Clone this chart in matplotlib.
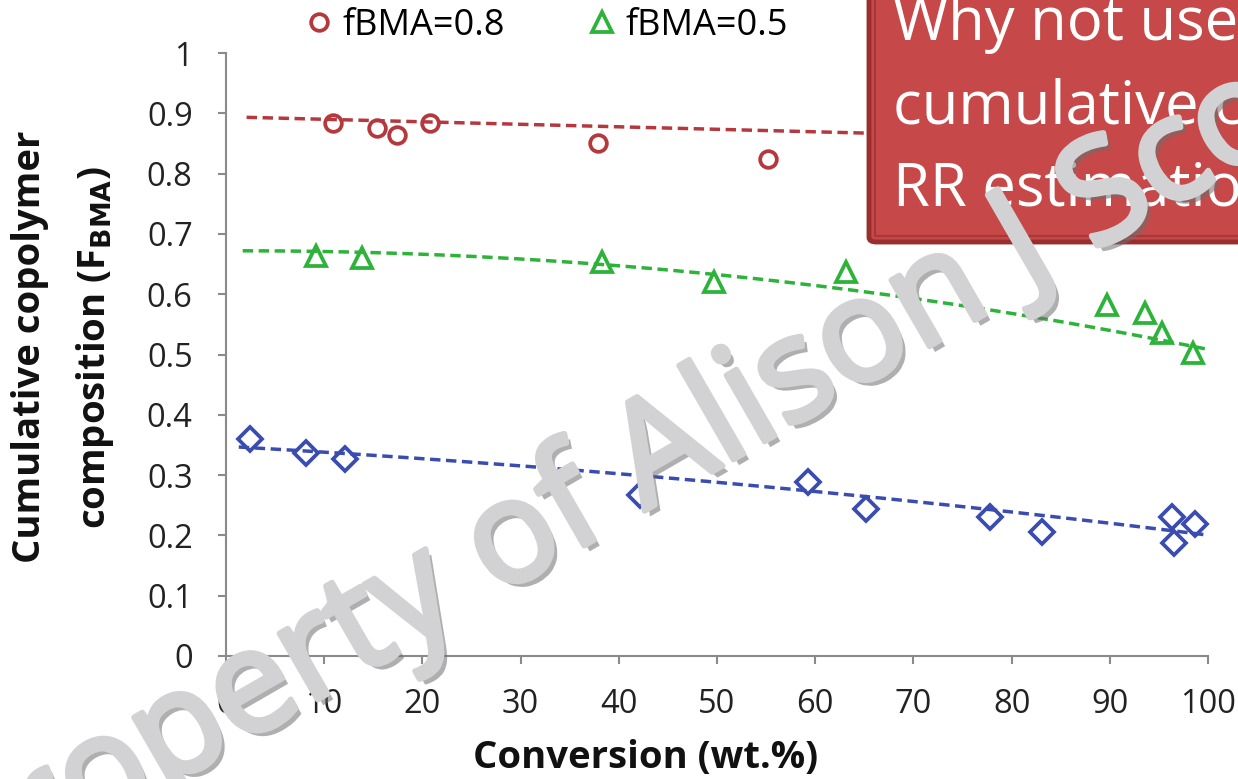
import numpy as np
import matplotlib.pyplot as plt
import matplotlib.patches as patches
import matplotlib.patheffects as pe
from matplotlib.lines import Line2D

plt.rcParams['font.family'] = ['Open Sans', 'DejaVu Sans']

# ----------------------------
# Data
# ----------------------------
# fBMA = 0.8 (circles)
x_08 = [10.9, 15.4, 17.4, 20.8, 37.9, 55.2]
y_08 = [0.884, 0.876, 0.864, 0.884, 0.851, 0.824]

# fBMA = 0.5 (triangles)
x_05 = [9.2, 13.8, 38.3, 49.7, 63.1, 89.7, 93.6, 95.3, 98.5]
y_05 = [0.663, 0.660, 0.653, 0.620, 0.637, 0.582, 0.569, 0.536, 0.502]

# fBMA = 0.2 (diamonds)
x_02 = [2.4, 8.1, 12.1, 42.2, 59.3, 65.2, 77.8, 83.1, 96.3, 96.5, 98.7]
y_02 = [0.360, 0.337, 0.327, 0.267, 0.289, 0.244, 0.231, 0.206, 0.231, 0.187, 0.219]

# trend lines, points
trend_08_x = [2.1, 26.9, 33.0, 65.3]
trend_08_y = [0.892, 0.884, 0.882, 0.866]
trend_05_x = [1.7, 33.0, 66.6, 83.9, 100.0]
trend_05_y = [0.675, 0.648, 0.602, 0.567, 0.502]
trend_02_x = [1.3, 37.1, 86.0, 100.0]
trend_02_y = [0.347, 0.305, 0.230, 0.199]

x_ticks = np.arange(0, 101, 10)
y_ticks = np.round(np.arange(0, 1.01, 0.1), 1)
y_tick_labels = ["0", "0.1", "0.2", "0.3", "0.4", "0.5", "0.6", "0.7", "0.8", "0.9", "1"]

red = "#B5383E"
green = "#2DB23A"
blue = "#3A4CB0"
axis_gray = "#8A8A8A"
wm_gray = "#D2D2D4"

W, H = 1238, 779
fig = plt.figure(figsize=(W / 100, H / 100), dpi=100)
ax = fig.add_axes([226 / W, 123 / H, 982 / W, 603 / H])

# ----------------------------
# Trend lines
# ----------------------------
def trend(xs, ys, deg):
    c = np.polyfit(xs, ys, deg)
    tt = np.linspace(xs[0], 100, 200)
    return tt, np.polyval(c, tt)

for xs, ys, deg, col in [(trend_08_x, trend_08_y, 1, red),
                         (trend_05_x, trend_05_y, 2, green),
                         (trend_02_x, trend_02_y, 2, blue)]:
    tt, yy = trend(xs, ys, deg)
    ax.plot(tt, yy, color=col, lw=2.5, dashes=(3, 1.6), zorder=2)

# ----------------------------
# Markers
# ----------------------------
mk = dict(linestyle="none", markerfacecolor="none", markeredgewidth=2.7,
          zorder=3, clip_on=False)
ax.plot(x_08, y_08, marker="o", markersize=12, markeredgecolor=red, **mk)
ax.plot(x_05, y_05, marker="^", markersize=14, markeredgecolor=green, **mk)
ax.plot(x_02, y_02, marker="D", markersize=12, markeredgecolor=blue, **mk)

# ----------------------------
# Axes styling
# ----------------------------
ax.set_xlim(0, 100)
ax.set_ylim(0, 1)
ax.set_xticks(x_ticks)
ax.set_yticks(y_ticks)
ax.set_yticklabels(y_tick_labels)
for s in ["top", "right"]:
    ax.spines[s].set_visible(False)
for s in ["left", "bottom"]:
    ax.spines[s].set_color(axis_gray)
    ax.spines[s].set_linewidth(1.5)
ax.tick_params(axis="both", direction="out", length=6, width=1.5,
               color=axis_gray, labelsize=23.5, labelcolor="#222222")
ax.tick_params(axis="y", pad=18)
ax.tick_params(axis="x", pad=17)

fig.text(646 / W, 1 - 758 / H, "Conversion (wt.%)", ha="center", va="center",
         fontsize=27.5, fontweight="bold", color="#111111")
fig.text(30 / W, 1 - 347 / H, "Cumulative copolymer", rotation=90,
         ha="center", va="center", fontsize=27.5, fontweight="bold", color="#111111")
fig.text(95 / W, 1 - 347 / H, r"composition (F$_{\mathbf{BMA}}$)", rotation=90,
         ha="center", va="center", fontsize=27.5, fontweight="bold", color="#111111")

# ----------------------------
# Legend (top)
# ----------------------------
handles = [
    Line2D([], [], linestyle="none", marker="o", markersize=12,
           markerfacecolor="none", markeredgecolor=red, markeredgewidth=2.7),
    Line2D([], [], linestyle="none", marker="^", markersize=14,
           markerfacecolor="none", markeredgecolor=green, markeredgewidth=2.7),
]
fig.legend(handles, ["fBMA=0.8", "fBMA=0.5"], loc="center left",
           bbox_to_anchor=(306 / W, 1 - 26 / H), ncol=2, frameon=False,
           fontsize=26, handlelength=0.7, handletextpad=0.3,
           columnspacing=2.35, borderaxespad=0, borderpad=0)

# ----------------------------
# Red callout box (runs off the right edge)
# ----------------------------
box = patches.FancyBboxPatch((869 / W, 1 - 242 / H), 400 / W, 280 / H,
                             boxstyle="round,pad=0,rounding_size=0.006",
                             transform=fig.transFigure, facecolor="#C64848",
                             edgecolor="#9A2E2E", lw=3.5, zorder=5)
fig.patches.append(box)
inner = patches.Rectangle((875 / W, 1 - 236 / H), 400 / W, 280 / H,
                          transform=fig.transFigure, facecolor="none",
                          edgecolor="#A83838", lw=1.5, zorder=5)
fig.patches.append(inner)

box_lines = ["Why not use", "cumulative composition", "RR estimation"]
baselines = [40, 124, 206]
for line, b in zip(box_lines, baselines):
    t = fig.text(893 / W, 1 - b / H, line, ha="left", va="baseline",
                 fontsize=43, color="white", zorder=6)
    t.set_clip_path(box)

# ----------------------------
# Watermark
# ----------------------------
fig.text(-38 / W, 1 - 905 / H, "Property of Alison J Scott", rotation=30,
         rotation_mode="anchor", ha="left", va="baseline", fontsize=103,
         color=wm_gray, zorder=10,
         path_effects=[pe.SimplePatchShadow(offset=(4, -4), shadow_rgbFace="#6E6E6E", alpha=0.55),
                       pe.Stroke(linewidth=4, foreground=wm_gray),
                       pe.Normal()])

fig.savefig("out.png", dpi=100)
